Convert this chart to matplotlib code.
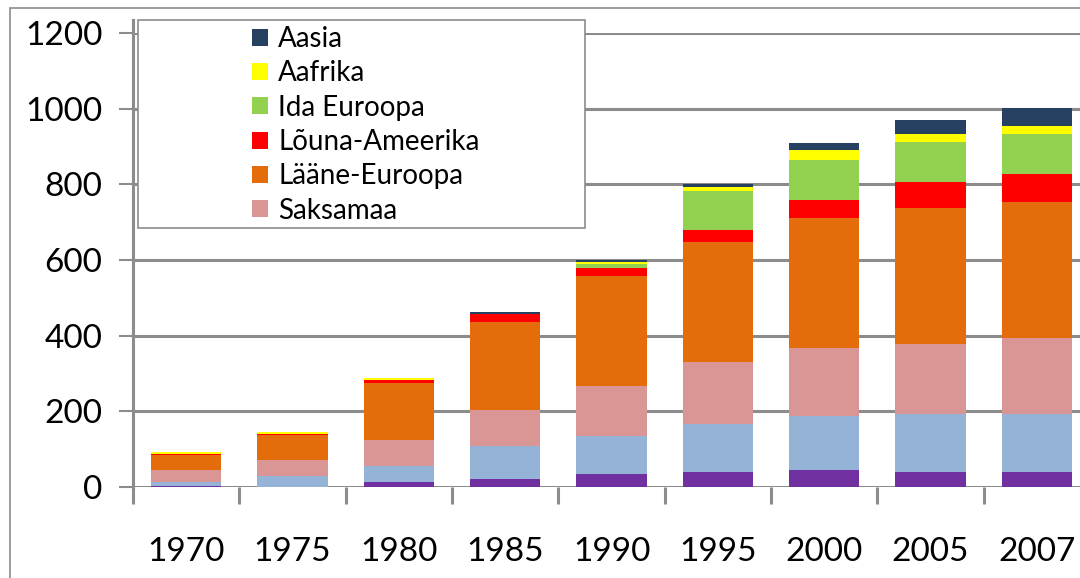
import numpy as np
import matplotlib
matplotlib.use('Agg')
import matplotlib.pyplot as plt
from matplotlib.patches import Rectangle, Patch

plt.rcParams['font.family'] = ['Lato', 'DejaVu Sans']

# aastad
years = ['1970', '1975', '1980', '1985', '1990', '1995', '2000', '2005', '2007']

# seeriad alt üles
purple = [2, 0, 13, 22, 34, 40, 44, 40, 40]
blue = [10, 29, 42, 86, 100, 127, 144, 153, 153]
saksamaa = [33, 42, 69, 95, 133, 164, 180, 185, 201]
laane_euroopa = [39, 66, 150, 233, 291, 317, 344, 360, 360]
louna_ameerika = [3, 3, 8, 21, 21, 32, 47, 69, 74]
ida_euroopa = [0, 0, 0, 0, 11, 103, 106, 106, 106]
aafrika = [5, 5, 6, 0, 4, 11, 26, 21, 21]
aasia = [0, 0, 0, 5, 6, 8, 17, 37, 47]

series = [
    ('', purple, '#7030A0'),
    ('', blue, '#95B3D7'),
    ('Saksamaa', saksamaa, '#D99694'),
    ('Lääne-Euroopa', laane_euroopa, '#E46C0A'),
    ('Lõuna-Ameerika', louna_ameerika, '#FF0000'),
    ('Ida Euroopa', ida_euroopa, '#92D050'),
    ('Aafrika', aafrika, '#FFFF00'),
    ('Aasia', aasia, '#254061'),
]

W, H = 1080, 578
fig = plt.figure(figsize=(W / 100, H / 100), dpi=100)

# välimine raam
fig.patches.append(Rectangle((10 / W, -0.1), 1.2, (H - 8) / H + 0.1, transform=fig.transFigure,
                             fill=False, edgecolor='#8c8c8c', linewidth=1.2))

# teljed (paremal osaliselt pildist väljas)
x0, x1 = 133, 1090
y0, y1 = 487, 33
ax = fig.add_axes([x0 / W, (H - y0) / H, (x1 - x0) / W, (y0 - y1) / H])

x = np.arange(len(years))
bottom = np.zeros(len(years))
for name, vals, col in series:
    ax.bar(x, vals, bottom=bottom, width=0.66, color=col, edgecolor='none', zorder=3)
    bottom += np.array(vals)

ax.set_xlim(-0.5, len(years) - 0.5)
ax.set_ylim(0, 1200)
ax.set_yticks(range(0, 1201, 200))
ax.yaxis.grid(True, color='#8c8c8c', linewidth=2.2, zorder=0)
ax.set_axisbelow(True)

for s in ['top', 'right', 'bottom']:
    ax.spines[s].set_visible(False)
ax.spines['left'].set_color('#8c8c8c')
ax.spines['left'].set_linewidth(2.2)
ax.spines['left'].set_bounds(0, 1235)

ax.tick_params(axis='y', length=10, width=1.5, color='#8c8c8c', labelsize=24, pad=12)
ax.set_xticks(x)
ax.set_xticklabels(years)
ax.set_xticks(np.arange(-0.5, len(years), 1), minor=True)
ax.tick_params(axis='x', which='major', length=0, labelsize=24, pad=36)
ax.tick_params(axis='x', which='minor', length=12, width=2.2, color='#8c8c8c')

# legend
fig.patches.append(Rectangle((138 / W, (H - 228) / H), 447 / W, 208 / H, transform=fig.transFigure,
                             facecolor='white', edgecolor='#8c8c8c', linewidth=1.2, zorder=5))
handles = [Patch(facecolor=col, edgecolor='none', label=name)
           for name, vals, col in reversed(series) if name]
leg = fig.legend(handles=handles, loc='upper left', bbox_to_anchor=(252 / W, (H - 26) / H),
                 frameon=False, fontsize=20, handlelength=0.58, handleheight=0.58,
                 handletextpad=0.36, labelspacing=0.3, borderpad=0, borderaxespad=0)
leg.set_zorder(6)

fig.savefig('out.png', dpi=100)
